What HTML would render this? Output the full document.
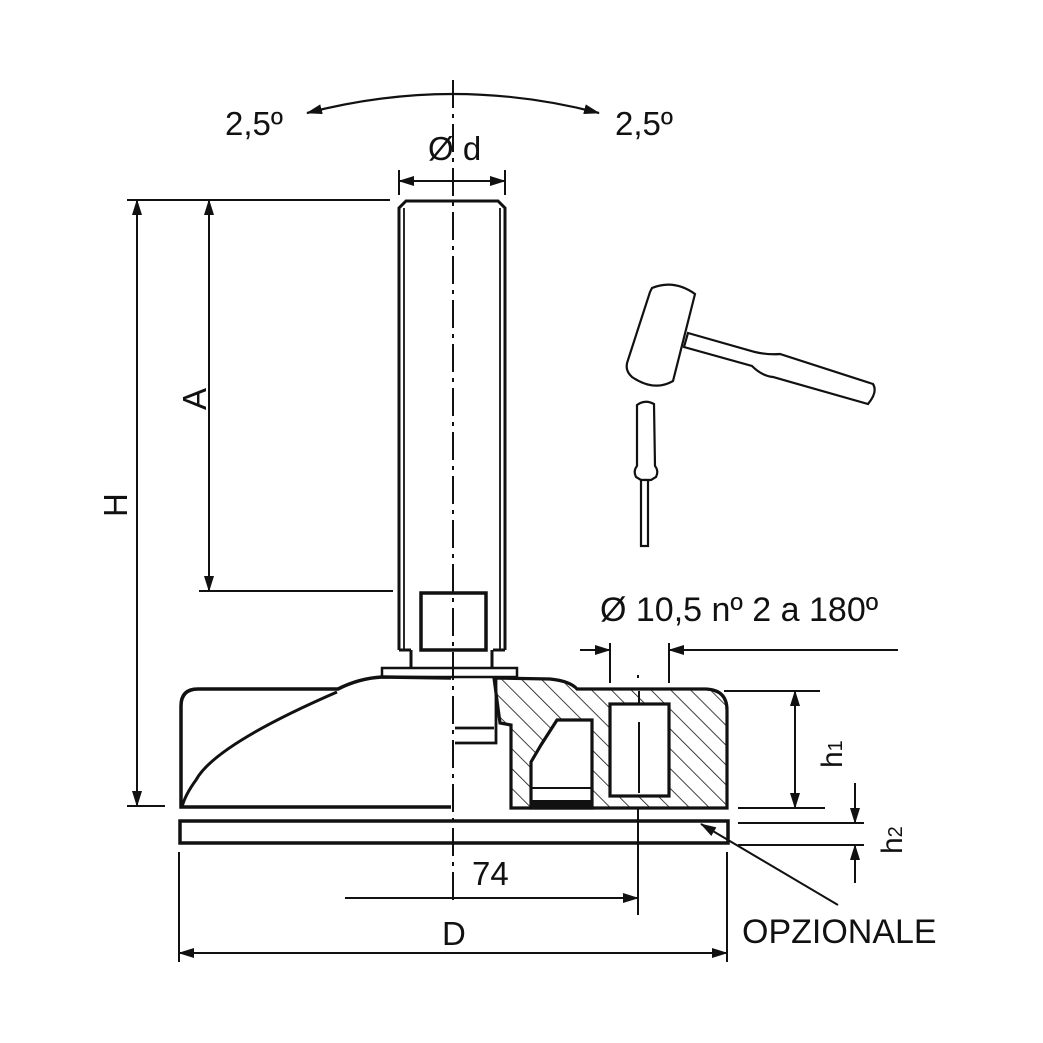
<!DOCTYPE html>
<html><head><meta charset="utf-8"><style>html,body{margin:0;padding:0;background:#fff}svg{display:block}</style></head><body>
<svg width="1043" height="1043" viewBox="0 0 1043 1043" xmlns="http://www.w3.org/2000/svg" font-family="Liberation Sans, sans-serif" fill="none" stroke="#111">
<defs>
<marker id="ar" markerWidth="16" markerHeight="10" refX="15" refY="5" orient="auto-start-reverse" markerUnits="userSpaceOnUse"><path d="M0,0 L16,5 L0,10 Z" fill="#111" stroke="none"/></marker>
<pattern id="hatch" width="14" height="14" patternUnits="userSpaceOnUse" patternTransform="rotate(-45)"><line x1="0" y1="0" x2="0" y2="14" stroke="#111" stroke-width="1.6"/></pattern>
</defs>
<line x1="453" y1="80" x2="453" y2="905" stroke-width="2" stroke-dasharray="28,6,4,6"/>
<path d="M307,113 Q453,75 599,113" stroke-width="2.2" marker-start="url(#ar)" marker-end="url(#ar)"/>
<g fill="#111" stroke="none" font-size="33">
<text x="225" y="135">2,5º</text><text x="615" y="135">2,5º</text>
<text x="428" y="160">Ø d</text>
<text x="600" y="621" font-size="34">Ø 10,5 nº 2 a 180º</text>
<text x="472" y="885">74</text>
<text x="442" y="945" font-size="33">D</text>
<text x="742" y="943" font-size="34">OPZIONALE</text>
<text transform="translate(206,410) rotate(-90)" font-size="33">A</text>
<text transform="translate(127,517) rotate(-90)" font-size="33">H</text>
<text transform="translate(842,768) rotate(-90)" font-size="30">h<tspan font-size="20">1</tspan></text>
<text transform="translate(902,854) rotate(-90)" font-size="30">h<tspan font-size="20">2</tspan></text>
</g>
<g stroke-width="2">
<line x1="399" y1="170" x2="399" y2="195"/><line x1="505" y1="170" x2="505" y2="195"/>
<line x1="399" y1="181" x2="505" y2="181" marker-start="url(#ar)" marker-end="url(#ar)"/>
<line x1="127" y1="200" x2="390" y2="200"/><line x1="127" y1="806" x2="165" y2="806"/>
<line x1="137" y1="200" x2="137" y2="806" marker-start="url(#ar)" marker-end="url(#ar)"/>
<line x1="199" y1="591" x2="393" y2="591"/>
<line x1="209" y1="200" x2="209" y2="591" marker-start="url(#ar)" marker-end="url(#ar)"/>
<line x1="610" y1="643" x2="610" y2="683"/><line x1="669" y1="643" x2="669" y2="683"/>
<line x1="580" y1="650" x2="610" y2="650" marker-end="url(#ar)"/>
<line x1="898" y1="650" x2="669" y2="650" marker-end="url(#ar)"/>
<line x1="638" y1="675" x2="638" y2="678"/>
<line x1="724" y1="691" x2="820" y2="691"/><line x1="738" y1="808" x2="825" y2="808"/>
<line x1="795" y1="691" x2="795" y2="808" marker-start="url(#ar)" marker-end="url(#ar)"/>
<line x1="738" y1="823" x2="864" y2="823"/><line x1="738" y1="845" x2="864" y2="845"/>
<line x1="855" y1="783" x2="855" y2="823" marker-end="url(#ar)"/>
<line x1="855" y1="883" x2="855" y2="845" marker-end="url(#ar)"/>
<line x1="638" y1="808" x2="638" y2="915"/>
<line x1="345" y1="898" x2="638" y2="898" marker-end="url(#ar)"/>
<line x1="179" y1="852" x2="179" y2="962"/><line x1="727" y1="852" x2="727" y2="962"/>
<line x1="179" y1="953" x2="727" y2="953" marker-start="url(#ar)" marker-end="url(#ar)"/>
<line x1="838" y1="905" x2="701" y2="824" marker-end="url(#ar)"/>
</g>
<g stroke-width="3">
<path d="M399,650 L399,208 L406,201 L498,201 L505,208 L505,650"/>
<line x1="404" y1="208" x2="404" y2="650" stroke-width="1.8"/>
<line x1="500" y1="208" x2="500" y2="650" stroke-width="1.8"/>
<line x1="399" y1="650" x2="411" y2="650"/><line x1="493" y1="650" x2="505" y2="650"/>
<line x1="411" y1="650" x2="411" y2="668"/><line x1="492" y1="650" x2="492" y2="668"/>
<rect x="421" y="593" width="65" height="57" stroke-width="3.5"/>
<rect x="382" y="668" width="135" height="9" stroke-width="2.5"/>
<path d="M451,807 L181,807 L181,706 Q181,689 198,689 L338,689 Q360,678 383,677 L451,678" stroke-width="3.5"/>
<path d="M337,692 Q215,745 196,780 Q185,795 182,807" stroke-width="3"/>
<path d="M455,728 L494,728 M455,743 L496,743 L496,678" stroke-width="2.8"/>
<path d="M494,678 L550,679 Q570,681 577,689 L706,689 Q727,690 727,710 L727,808 L511,808 L511,725 L500,723 Z" fill="url(#hatch)" stroke-width="3.2"/>
<path d="M557,720 L592,720 L592,808 L531,808 L531,762 L541,745 Z" fill="#fff" stroke-width="3.2"/>
<line x1="531" y1="788" x2="592" y2="788" stroke-width="2"/>
<rect x="531" y="800" width="61" height="8" fill="#111" stroke="none"/>
<rect x="610" y="704" width="59" height="92" fill="#fff" stroke-width="3.2"/>
<line x1="639" y1="722" x2="639" y2="793" stroke-width="2"/>
<line x1="639" y1="691" x2="639" y2="704" stroke-width="2"/>
<rect x="180" y="821" width="548" height="22" stroke-width="3.5"/>
</g>
<g stroke-width="2.2" fill="#fff">
<path d="M688,333 L755,352 Q768,355 780,354 L873,384 Q878,392 868,404 L773,377 Q762,376 752,366 L684,347 Z"/>
<path d="M652,288 Q674,279 695,294 L673,381 Q654,392 632,377 Q624,370 628,360 L650,292 Z"/>
<path d="M637,405 Q645,399 654,404 L655,466 Q659,471 656,477 L651,480 L641,480 L636,477 Q633,471 637,466 Z"/>
<rect x="641" y="480" width="7" height="66"/>
</g>
</svg>
</body></html>
